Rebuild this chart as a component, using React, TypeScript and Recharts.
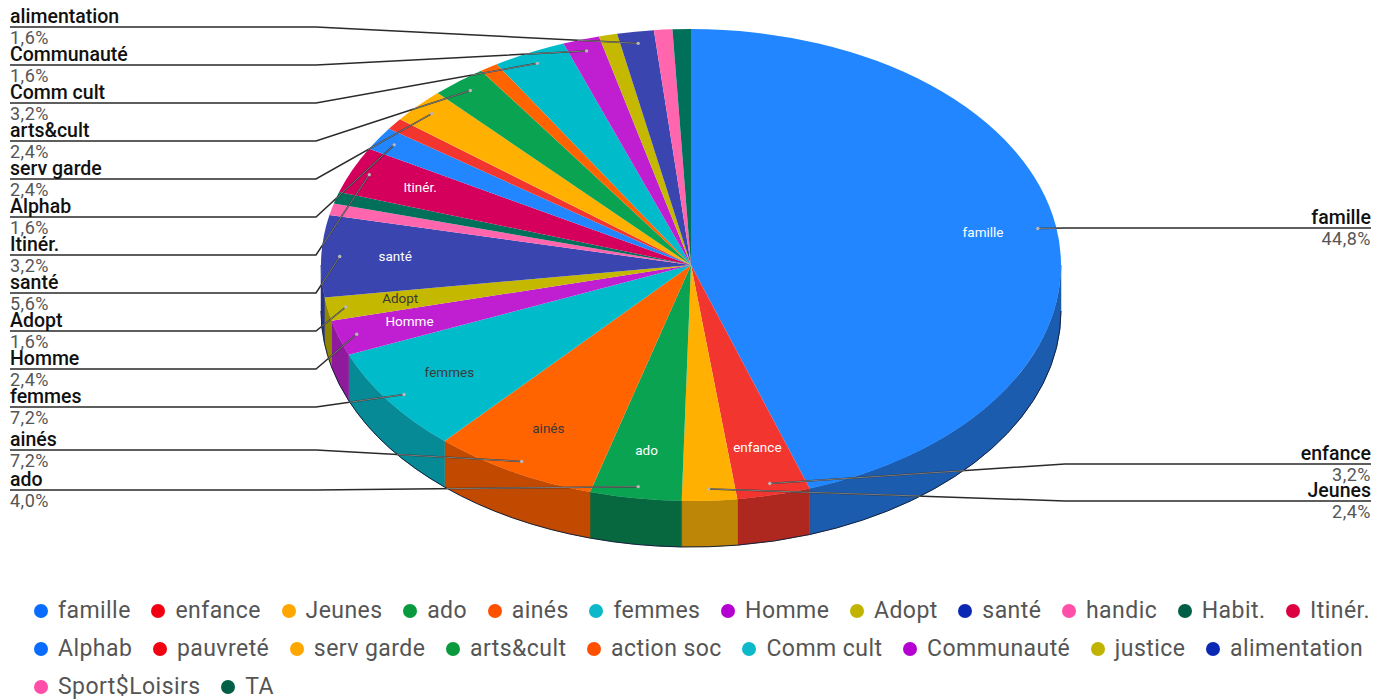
import React from "react";
import { PieChart, Pie, Cell, Legend } from "recharts";

const names = ["famille","enfance","Jeunes","ado","ainés","femmes","Homme","Adopt","santé","handic","Habit.","Itinér.","Alphab","pauvreté","serv garde","arts&cult","action soc","Comm cult","Communauté","justice","alimentation","Sport$Loisirs","TA"];
const shares = [44.8,3.2,2.4,4.0,7.2,7.2,2.4,1.6,5.6,0.8,0.8,3.2,1.6,0.8,2.4,2.4,0.8,3.2,1.6,0.8,1.6,0.8,0.8];
const topColors = ["#2186FF","#F2352E","#FFB000","#0AA351","#FF6400","#00BCCB","#BF1FD0","#C4B800","#3A45B0","#FF66AE","#00705A","#D4005C","#2186FF","#F2352E","#FFB000","#0AA351","#FF6400","#00BCCB","#BF1FD0","#C4B800","#3A45B0","#FF66AE","#00705A"];
const wallColors = ["#1B5CAE","#AE281F","#BE8606","#07683F","#C24A00","#058A96","#8F1A9C","#8E8600","#2A3284","#B84880","#00503F","#9A0042","#1B5CAE","#AE281F","#BE8606","#07683F","#C24A00","#058A96","#8F1A9C","#8E8600","#2A3284","#B84880","#00503F"];
const legendColors = ["#0A6CFF","#F00010","#FFA600","#089A3C","#FF5000","#0DB8C8","#B400D0","#C0B400","#0A28B4","#FF4FA8","#005F46","#DC0040","#0A6CFF","#F00010","#FFA600","#089A3C","#FF5000","#0DB8C8","#B400D0","#C0B400","#0A28B4","#FF4FA8","#005F46"];
const insideLabelled = ["famille","enfance","ado","ainés","femmes","Homme","Adopt","santé","Itinér."];
const darkInside = ["ainés","femmes","Adopt"];
const leaderRows: Record<string, number> = {
  alimentation: 27, "Communauté": 65, "Comm cult": 103, "arts&cult": 141, "serv garde": 179,
  Alphab: 217, "Itinér.": 255, "santé": 293, Adopt: 331, Homme: 369, femmes: 407, "ainés": 450, ado: 490,
  famille: 228, enfance: 464, Jeunes: 501,
};
const rightSide = ["famille","enfance","Jeunes"];

const rows = names.map((name, i) => ({ name, share: shares[i] }));

const CX = 691, CY = 265, R = 370, SQUASH = 236 / 370, DEPTH = 46;
const LEFT = 10, RIGHT = 1371, LEFT_ELBOW = 316, RIGHT_ELBOW = 1065;
const rad = Math.PI / 180;
const px = (cx: number, r: number, a: number) => cx + r * Math.cos(a * rad);
const py = (cy: number, r: number, a: number) => cy - r * SQUASH * Math.sin(a * rad);

const TopSector = (p: any) => {
  const { cx, cy, outerRadius: r, startAngle: s, endAngle: e, fill } = p;
  const large = Math.abs(s - e) > 180 ? 1 : 0;
  const d = `M${cx},${cy}L${px(cx, r, s)},${py(cy, r, s)}A${r},${r * SQUASH} 0 ${large} 1 ${px(cx, r, e)},${py(cy, r, e)}Z`;
  return <path d={d} fill={fill} />;
};

const WallSector = (p: any) => {
  const { cx, cy, outerRadius: r, startAngle: s, endAngle: e, fill } = p;
  const a1 = Math.min(s, 0), a2 = Math.max(e, -180);
  if (a1 <= a2) return <g />;
  const rx = r, ry = r * SQUASH;
  const d = `M${px(cx, r, a1)},${py(cy, r, a1)}A${rx},${ry} 0 0 1 ${px(cx, r, a2)},${py(cy, r, a2)}L${px(cx, r, a2)},${py(cy, r, a2) + DEPTH}A${rx},${ry} 0 0 0 ${px(cx, r, a1)},${py(cy, r, a1) + DEPTH}Z`;
  const edge = `M${px(cx, r, a1)},${py(cy, r, a1) + DEPTH}A${rx},${ry} 0 0 1 ${px(cx, r, a2)},${py(cy, r, a2) + DEPTH}`;
  return (
    <g>
      <path d={d} fill={fill} stroke={fill} strokeWidth={0.5} />
      <path d={edge} fill="none" stroke="#14203C" strokeWidth={1} />
    </g>
  );
};

const EmptySector = () => <g />;

const anchor = (p: any, f: number) => ({
  x: px(p.cx, p.outerRadius * f, p.midAngle),
  y: py(p.cy, p.outerRadius * f, p.midAngle),
});

const leaderPoints = (name: string, p: any) => {
  const y = leaderRows[name];
  const dot = anchor(p, 0.95);
  const right = rightSide.includes(name);
  return `${right ? RIGHT : LEFT},${y} ${right ? RIGHT_ELBOW : LEFT_ELBOW},${y} ${dot.x},${dot.y}`;
};

// true when a point lies on the drawn pie body (top face or side wall)
const onBody = (x: number, y: number, p: any) => {
  const rx = p.outerRadius, ry = rx * SQUASH;
  const nx = (x - p.cx) / rx;
  if (Math.abs(nx) > 1) return false;
  const h = ry * Math.sqrt(1 - nx * nx);
  return y >= p.cy - h && y <= p.cy + h + DEPTH;
};

const BlackLeader = (p: any) => {
  const name = names[p.index];
  if (leaderRows[name] === undefined) return <g />;
  return <polyline points={leaderPoints(name, p)} fill="none" stroke="#2A2A2A" strokeWidth={1.5} />;
};

const Labels = (p: any) => {
  const name = names[p.index];
  const y = leaderRows[name];
  const inside = anchor(p, 0.8);
  const parts: React.ReactNode[] = [];
  if (insideLabelled.includes(name)) {
    parts.push(
      <text key="i" x={inside.x} y={inside.y} dy={3} textAnchor="middle" fontFamily="Roboto" fontSize={13.5}
        fill={darkInside.includes(name) ? "#3A3A3A" : "#FFFFFF"}>{name}</text>
    );
  }
  if (y !== undefined) {
    const right = rightSide.includes(name);
    const dot = anchor(p, 0.95);
    const x = right ? RIGHT : LEFT;
    const ta = right ? "end" : "start";
    const elbow = right ? RIGHT_ELBOW : LEFT_ELBOW;
    let t = 0;
    while (t < 1 && onBody(dot.x + (elbow - dot.x) * t, dot.y + (y - dot.y) * t, p)) t += 0.005;
    parts.push(
      <g key="o">
        <line x1={dot.x + (elbow - dot.x) * t} y1={dot.y + (y - dot.y) * t} x2={dot.x} y2={dot.y} stroke="#A0A0A0" strokeOpacity={0.7} strokeWidth={1} />
        <circle cx={dot.x} cy={dot.y} r={1.7} fill="#B8B8B8" />
        <text x={x} y={y - 4} textAnchor={ta} fontFamily="Roboto" fontWeight={500} fontSize={19.5} fill="#111111">{name}</text>
        <text x={x} y={y + 16.5} textAnchor={ta} fontFamily="Roboto" fontSize={18} letterSpacing={0.5} fill="#555555">{shares[p.index].toFixed(1).replace(".", ",")}%</text>
      </g>
    );
  }
  return <g>{parts}</g>;
};

const LegendBox = () => (
  <div style={{ display: "flex", flexWrap: "wrap", columnGap: 20.6, rowGap: 12, fontFamily: "Roboto", fontSize: 23, letterSpacing: 0.45, lineHeight: "26px", color: "#555555" }}>
    {names.map((n, i) => (
      <span key={n} style={{ display: "inline-flex", alignItems: "center", gap: 10 }}>
        <span style={{ width: 14, height: 14, borderRadius: 7, background: legendColors[i], display: "inline-block" }} />
        {n}
      </span>
    ))}
  </div>
);

export default function App() {
  return (
    <div style={{ position: "absolute", left: 0, top: 0, width: 1389, height: 700, background: "#FFFFFF" }}>
      <PieChart width={1389} height={700} margin={{ top: 0, left: 0, right: 0, bottom: 0 }}>
        <Pie data={rows} dataKey="share" nameKey="name" cx={CX} cy={CY} outerRadius={R} startAngle={90} endAngle={-270}
          legendType="none" isAnimationActive={false} shape={EmptySector} label={BlackLeader} labelLine={false} stroke="none" />
        <Pie data={rows} dataKey="share" nameKey="name" cx={CX} cy={CY} outerRadius={R} startAngle={90} endAngle={-270}
          legendType="none" isAnimationActive={false} shape={WallSector} stroke="none">
          {rows.map((r, i) => <Cell key={r.name} fill={wallColors[i]} />)}
        </Pie>
        <Pie data={rows} dataKey="share" nameKey="name" cx={CX} cy={CY} outerRadius={R} startAngle={90} endAngle={-270}
          isAnimationActive={false} shape={TopSector} label={Labels} labelLine={false} stroke="none">
          {rows.map((r, i) => <Cell key={r.name} fill={topColors[i]} />)}
        </Pie>
        <Legend content={<LegendBox />} wrapperStyle={{ position: "absolute", left: 34, top: 598, width: 1345, bottom: "auto" }} />
      </PieChart>
    </div>
  );
}
